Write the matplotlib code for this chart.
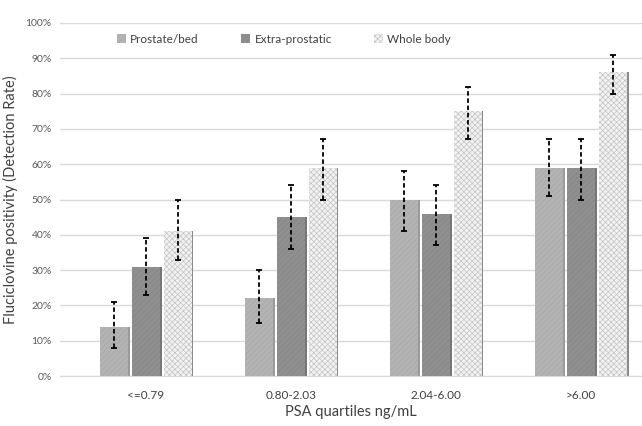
import matplotlib.pyplot as plt
import numpy as np

# PSA quartiles and detection rates (%)
categories = ["<=0.79", "0.80-2.03", "2.04-6.00", ">6.00"]
series = ["Prostate/bed", "Extra-prostatic", "Whole body"]
prostate = [14, 22, 50, 59]
extra = [31, 45, 46, 59]
whole = [41, 59, 75, 86]
# confidence interval bounds
prostate_lo = [8, 15, 41, 51]
prostate_hi = [21, 30, 58, 67]
extra_lo = [23, 36, 37, 50]
extra_hi = [39, 54, 54, 67]
whole_lo = [33, 50, 67, 80]
whole_hi = [50, 67, 82, 91]

plt.rcParams["font.family"] = ["Lato", "DejaVu Sans"]
plt.rcParams["hatch.linewidth"] = 0.5

fig = plt.figure(figsize=(6.42, 4.26), dpi=100)
ax = fig.add_axes([60 / 642, 50 / 426, 582 / 642, 353 / 426])

x = np.arange(len(categories))
width = 0.19
offsets = [-0.22, 0, 0.22]
values = [prostate, extra, whole]
lows = [prostate_lo, extra_lo, whole_lo]
highs = [prostate_hi, extra_hi, whole_hi]
faces = ["#b3b3b3", "#8f8f8f", "#f2f2f2"]
hatch_cols = ["#a8a8a8", "#868686", "#c4c4c4"]
hatches = ["//////", "//////", "xxxxxx"]
shadow = ["#9a9a9a", "#777777", "#8a8a8a"]

for i in range(3):
    xs = x + offsets[i]
    # thin darker right edge, like the original's 3-D look
    ax.bar(xs + 0.012, values[i], width, color=shadow[i], zorder=2)
    ax.bar(xs, values[i], width, color=faces[i], edgecolor=hatch_cols[i],
           hatch=hatches[i], linewidth=0, zorder=3, label=series[i])
    v = np.array(values[i])
    err = [v - np.array(lows[i]), np.array(highs[i]) - v]
    eb = ax.errorbar(xs, v, yerr=err, fmt="none", ecolor="black",
                     elinewidth=1.3, capsize=2.5, capthick=1.3, zorder=4)
    eb[2][0].set_linestyle((0, (2.5, 1.5)))

ax.set_ylim(0, 100)
ax.set_xlim(-0.593, 3.42)
ax.set_yticks(np.arange(0, 101, 10))
ax.set_yticklabels([f"{t}%" for t in range(0, 101, 10)])
ax.set_xticks(x)
ax.set_xticklabels(categories)
ax.tick_params(axis="y", length=0, labelsize=7.5, labelcolor="#595959", pad=6)
ax.tick_params(axis="x", length=0, labelsize=8.5, labelcolor="#404040", pad=10)
ax.grid(axis="y", color="#d9d9d9", linewidth=1)
ax.set_axisbelow(True)
for s in ["top", "right", "left"]:
    ax.spines[s].set_visible(False)
ax.spines["bottom"].set_color("#d9d9d9")

ax.set_xlabel("PSA quartiles ng/mL", fontsize=10.5, color="#404040", labelpad=3)
ax.set_ylabel("Fluciclovine positivity (Detection Rate)", fontsize=10.5,
              color="#404040")
ax.yaxis.set_label_coords(-0.072, 0.5)

leg = ax.legend(loc="upper center", bbox_to_anchor=(0.385, 1.0), ncol=3,
                frameon=False, fontsize=8.5, handlelength=0.7, handleheight=0.7,
                columnspacing=3.6, handletextpad=0.4)
for t in leg.get_texts():
    t.set_color("#404040")

fig.savefig("out.png", dpi=100)
